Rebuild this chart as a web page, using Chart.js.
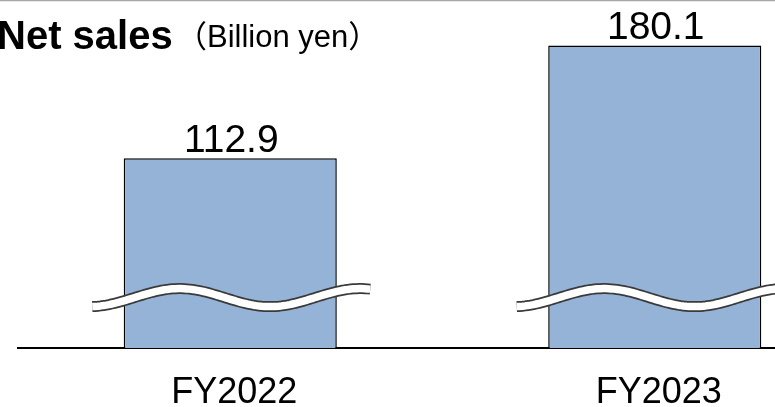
<!DOCTYPE html>
<html>
<head>
<meta charset="utf-8">
<script src="https://cdn.jsdelivr.net/npm/chart.js@4/dist/chart.umd.min.js"></script>
<style>
  html, body { margin: 0; padding: 0; background: #fff; }
  #wrap { position: relative; width: 775px; height: 407px; overflow: hidden; }
  #wrap canvas { position: absolute; left: 0; top: 0; }
</style>
</head>
<body>
<div id="wrap">
  <canvas id="salesChart" width="900" height="407" style="width:900px;height:407px"></canvas>
</div>
<script>
// Net sales (billion yen)
const fiscalYears = ["FY2022", "FY2023"];
const netSales = [112.9, 180.1];
const breakValue = 30; // where the wavy axis-break sits on each bar
const titleMain = "Net sales";
const titleUnit = "（Billion yen）";

const FONT = "'Liberation Sans', Arial, 'Noto Sans CJK JP', sans-serif";

// top rule + heading
const headerPlugin = {
  id: "header",
  afterDraw(chart) {
    const ctx = chart.ctx;
    ctx.save();
    ctx.strokeStyle = "#a6a6a6";
    ctx.lineWidth = 1.5;
    ctx.beginPath();
    ctx.moveTo(0, 0.5);
    ctx.lineTo(chart.width, 0.5);
    ctx.stroke();

    ctx.fillStyle = "#000";
    ctx.textBaseline = "alphabetic";
    ctx.textAlign = "left";
    ctx.font = "bold 40px " + FONT;
    ctx.fillText(titleMain, -3, 49);
    ctx.font = "31px " + FONT;
    ctx.fillText(titleUnit, 176, 47);
    ctx.restore();
  }
};

// value above each bar
const valueLabels = {
  id: "valueLabels",
  afterDatasetsDraw(chart) {
    const ctx = chart.ctx;
    const meta = chart.getDatasetMeta(0);
    ctx.save();
    ctx.fillStyle = "#000";
    ctx.font = "39px " + FONT;
    ctx.textAlign = "center";
    ctx.textBaseline = "alphabetic";
    meta.data.forEach((bar, i) => {
      ctx.fillText(netSales[i].toFixed(1), bar.x + 1, bar.y - 6);
    });
    ctx.restore();
  }
};

// wavy break band across each bar
const axisBreak = {
  id: "axisBreak",
  afterDatasetsDraw(chart) {
    const ctx = chart.ctx;
    const yc = chart.scales.y.getPixelForValue(breakValue);
    const meta = chart.getDatasetMeta(0);
    const amp = 9;
    meta.data.forEach((bar) => {
      const x0 = bar.x - 138;
      const len = 278;
      const path = () => {
        ctx.beginPath();
        for (let k = 0; k <= 100; k++) {
          const t = k / 100;
          const y = yc - amp * Math.cos(2 * Math.PI * (t - 0.314) / 0.65);
          if (k === 0) ctx.moveTo(x0 + t * len, y);
          else ctx.lineTo(x0 + t * len, y);
        }
      };
      ctx.save();
      ctx.lineCap = "butt";
      ctx.lineJoin = "round";
      path();
      ctx.strokeStyle = "#3a3a3a";
      ctx.lineWidth = 11;
      ctx.stroke();
      path();
      ctx.strokeStyle = "#fff";
      ctx.lineWidth = 7.5;
      ctx.stroke();
      ctx.restore();
    });
  }
};

new Chart(document.getElementById("salesChart"), {
  type: "bar",
  data: {
    labels: fiscalYears,
    datasets: [
      {
        data: netSales,
        backgroundColor: "#95b3d7",
        borderColor: "#000",
        borderWidth: 1.5,
        categoryPercentage: 1,
        barPercentage: 0.502,
      },
    ],
  },
  options: {
    responsive: false,
    animation: false,
    layout: { padding: { left: 18, right: 33, top: 12, bottom: 0 } },
    plugins: {
      legend: { display: false },
      tooltip: { enabled: false },
    },
    scales: {
      x: {
        grid: { display: false, drawTicks: false },
        border: { display: true, color: "#000", width: 2 },
        ticks: {
          color: "#000",
          padding: 27,
          labelOffset: 4,
          font: { family: FONT, size: 36, lineHeight: 1 },
        },
        afterFit(scale) {
          scale.height = 59;
        },
      },
      y: {
        display: false,
        min: 0,
        max: 200,
      },
    },
  },
  plugins: [axisBreak, valueLabels, headerPlugin],
});
</script>
</body>
</html>
